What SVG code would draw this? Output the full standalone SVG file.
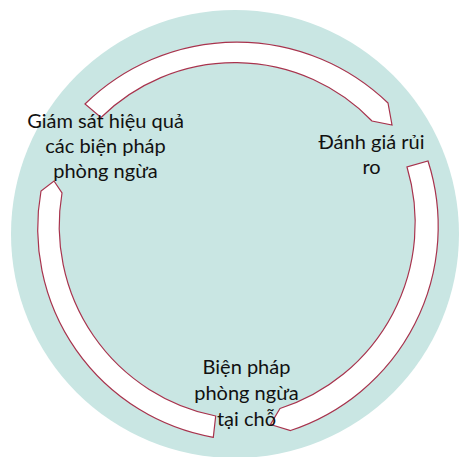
<svg xmlns="http://www.w3.org/2000/svg" width="459" height="457" viewBox="0 0 459 457">
  <style>
    .arrow { fill: #ffffff; stroke: #A8334D; stroke-width: 1.2; stroke-linejoin: miter; }
    .lbl { font-family: Lato, "Open Sans", "Liberation Sans", sans-serif; font-size: 20px; fill: #111111; text-anchor: middle; }
  </style>
  <g id="background">
    <circle cx="235" cy="234" r="224" fill="#C9E6E3"/>
  </g>
  <g id="connectors">
    <path class="arrow" d="M 85,104 A 217.5 217.5 0 0 1 388,103 L 392,125 L 372,121 A 190.5 190.5 0 0 0 101,117.5 Z"/>
    <path class="arrow" d="M 428,161 A 214.8 214.8 0 0 1 290.5,430.5 L 270.5,424.5 L 280,408.5 A 195 195 0 0 0 407,167 Z"/>
    <path class="arrow" d="M 213.3,437.3 A 212.3 212.3 0 0 1 41,191 L 54,181 L 62,193 A 194 194 0 0 0 215.7,416 Z"/>
  </g>
  <g id="node-risk">
    <text class="lbl" x="371.5" y="149">Đánh giá rủi</text>
    <text class="lbl" x="371.5" y="174">ro</text>
  </g>
  <g id="node-prevention">
    <text class="lbl" x="246.5" y="374">Biện pháp</text>
    <text class="lbl" x="246.5" y="400">phòng ngừa</text>
    <text class="lbl" x="246.5" y="426">tại chỗ</text>
  </g>
  <g id="node-monitor">
    <text class="lbl" x="105.5" y="127.5">Giám sát hiệu quả</text>
    <text class="lbl" x="105.5" y="153">các biện pháp</text>
    <text class="lbl" x="105.5" y="178">phòng ngừa</text>
  </g>
</svg>
